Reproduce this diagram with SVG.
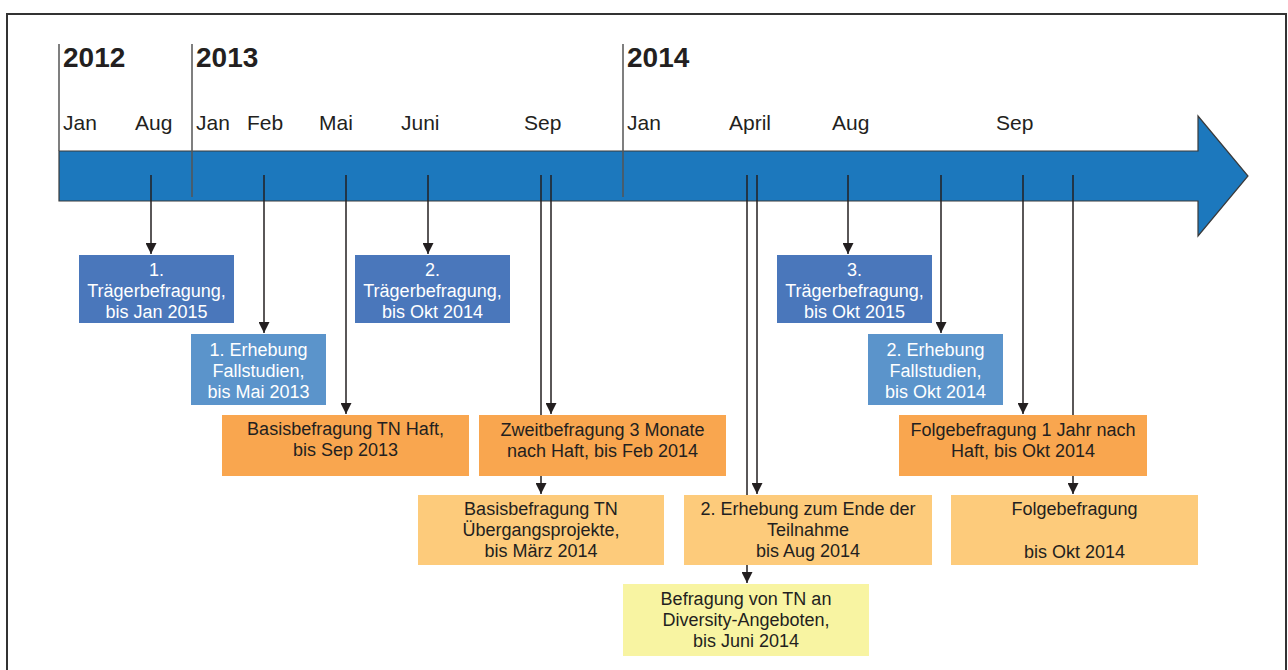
<svg xmlns="http://www.w3.org/2000/svg" width="1288" height="670" viewBox="0 0 1288 670">
<style>
.yr{font-family:"Liberation Sans",Arial,sans-serif;font-weight:bold;font-size:28px;fill:#231f20}
.mo{font-family:"Liberation Sans",Arial,sans-serif;font-size:21px;fill:#231f20}
.bt{font-family:"Liberation Sans",Arial,sans-serif;font-size:18px;text-anchor:middle}
.w{fill:#ffffff}
.d{fill:#231f20}
.yl{stroke:#555;stroke-width:1.5;fill:none}
.c{stroke:#231f20;stroke-width:1.5;fill:none;marker-end:url(#ah)}
.b1{fill:#4a77bb}
.b2{fill:#5b94cb}
.o1{fill:#f9a64f}
.o2{fill:#fdcb7b}
.y1{fill:#f8f4a2}
</style>
<defs>
<marker id="ah" markerUnits="userSpaceOnUse" markerWidth="11" markerHeight="11" refX="11" refY="5.5" orient="auto">
<path d="M0,0 L11,5.5 L0,11 Z" fill="#231f20"/>
</marker>
</defs>
<rect x="0" y="0" width="1288" height="670" fill="#ffffff"/>
<rect x="7" y="14" width="1279" height="700" fill="none" stroke="#333" stroke-width="2"/>
<g id="timeline">
<path d="M59,151 L1198,151 L1198,116 L1248,176 L1198,236 L1198,201 L59,201 Z" fill="#1c78bd" stroke="#3a3a3a" stroke-width="1.2"/>
<line class="yl" x1="59" y1="44" x2="59" y2="151"/>
<line class="yl" x1="192" y1="44" x2="192" y2="197"/>
<line class="yl" x1="623" y1="44" x2="623" y2="197"/>
<text class="yr" x="63" y="67">2012</text>
<text class="yr" x="196" y="67">2013</text>
<text class="yr" x="627" y="67">2014</text>
<text class="mo" x="63" y="130">Jan</text>
<text class="mo" x="135" y="130">Aug</text>
<text class="mo" x="196" y="130">Jan</text>
<text class="mo" x="247" y="130">Feb</text>
<text class="mo" x="319" y="130">Mai</text>
<text class="mo" x="401" y="130">Juni</text>
<text class="mo" x="524" y="130">Sep</text>
<text class="mo" x="627" y="130">Jan</text>
<text class="mo" x="729" y="130">April</text>
<text class="mo" x="832" y="130">Aug</text>
<text class="mo" x="996" y="130">Sep</text>
</g>
<g id="connectors">
<line class="c" x1="151" y1="175" x2="151" y2="254"/>
<line class="c" x1="264" y1="175" x2="264" y2="333"/>
<line class="c" x1="346" y1="175" x2="346" y2="414"/>
<line class="c" x1="428" y1="175" x2="428" y2="254"/>
<line class="c" x1="541" y1="175" x2="541" y2="494"/>
<line class="c" x1="551" y1="175" x2="551" y2="414"/>
<line class="c" x1="747" y1="175" x2="747" y2="583"/>
<line class="c" x1="757" y1="175" x2="757" y2="494"/>
<line class="c" x1="848" y1="175" x2="848" y2="254"/>
<line class="c" x1="941" y1="175" x2="941" y2="333"/>
<line class="c" x1="1023" y1="175" x2="1023" y2="414"/>
<line class="c" x1="1073" y1="175" x2="1073" y2="494"/>
</g>
<g id="n1">
<rect class="b1" x="79" y="255" width="155" height="68"/>
<text class="bt w"><tspan x="156.5" y="276">1.</tspan><tspan x="156.5" y="297">Trägerbefragung,</tspan><tspan x="156.5" y="318">bis Jan 2015</tspan></text>
</g>
<g id="n2">
<rect class="b2" x="191" y="334" width="135" height="71"/>
<text class="bt w"><tspan x="258.5" y="356">1. Erhebung</tspan><tspan x="258.5" y="377">Fallstudien,</tspan><tspan x="258.5" y="398">bis Mai 2013</tspan></text>
</g>
<g id="n3">
<rect class="o1" x="222" y="415" width="247" height="61"/>
<text class="bt d"><tspan x="345.5" y="435">Basisbefragung TN Haft,</tspan><tspan x="345.5" y="456">bis Sep 2013</tspan></text>
</g>
<g id="n4">
<rect class="b1" x="355" y="255" width="155" height="68"/>
<text class="bt w"><tspan x="432.5" y="276">2.</tspan><tspan x="432.5" y="297">Trägerbefragung,</tspan><tspan x="432.5" y="318">bis Okt 2014</tspan></text>
</g>
<g id="n5">
<rect class="o1" x="479" y="415" width="247" height="61"/>
<text class="bt d"><tspan x="602.5" y="436">Zweitbefragung 3 Monate</tspan><tspan x="602.5" y="457">nach Haft, bis Feb 2014</tspan></text>
</g>
<g id="n6">
<rect class="o2" x="418" y="495" width="246" height="70"/>
<text class="bt d"><tspan x="541" y="515">Basisbefragung TN</tspan><tspan x="541" y="536">Übergangsprojekte,</tspan><tspan x="541" y="557">bis März 2014</tspan></text>
</g>
<g id="n7">
<rect class="o2" x="684" y="495" width="248" height="70"/>
<text class="bt d"><tspan x="808" y="515">2. Erhebung zum Ende der</tspan><tspan x="808" y="536">Teilnahme</tspan><tspan x="808" y="557">bis Aug 2014</tspan></text>
</g>
<g id="n8">
<rect class="y1" x="623" y="584" width="246" height="72"/>
<text class="bt d"><tspan x="746" y="605">Befragung von TN an</tspan><tspan x="746" y="626">Diversity-Angeboten,</tspan><tspan x="746" y="647">bis Juni 2014</tspan></text>
</g>
<g id="n9">
<rect class="b1" x="777" y="255" width="155" height="68"/>
<text class="bt w"><tspan x="854.5" y="276">3.</tspan><tspan x="854.5" y="297">Trägerbefragung,</tspan><tspan x="854.5" y="318">bis Okt 2015</tspan></text>
</g>
<g id="n10">
<rect class="b2" x="868" y="334" width="135" height="71"/>
<text class="bt w"><tspan x="935.5" y="356">2. Erhebung</tspan><tspan x="935.5" y="377">Fallstudien,</tspan><tspan x="935.5" y="398">bis Okt 2014</tspan></text>
</g>
<g id="n11">
<rect class="o1" x="899" y="415" width="248" height="61"/>
<text class="bt d"><tspan x="1023" y="436">Folgebefragung 1 Jahr nach</tspan><tspan x="1023" y="457">Haft, bis Okt 2014</tspan></text>
</g>
<g id="n12">
<rect class="o2" x="951" y="495" width="247" height="70"/>
<text class="bt d"><tspan x="1074.5" y="515">Folgebefragung</tspan><tspan x="1074.5" y="558">bis Okt 2014</tspan></text>
</g>
</svg>
